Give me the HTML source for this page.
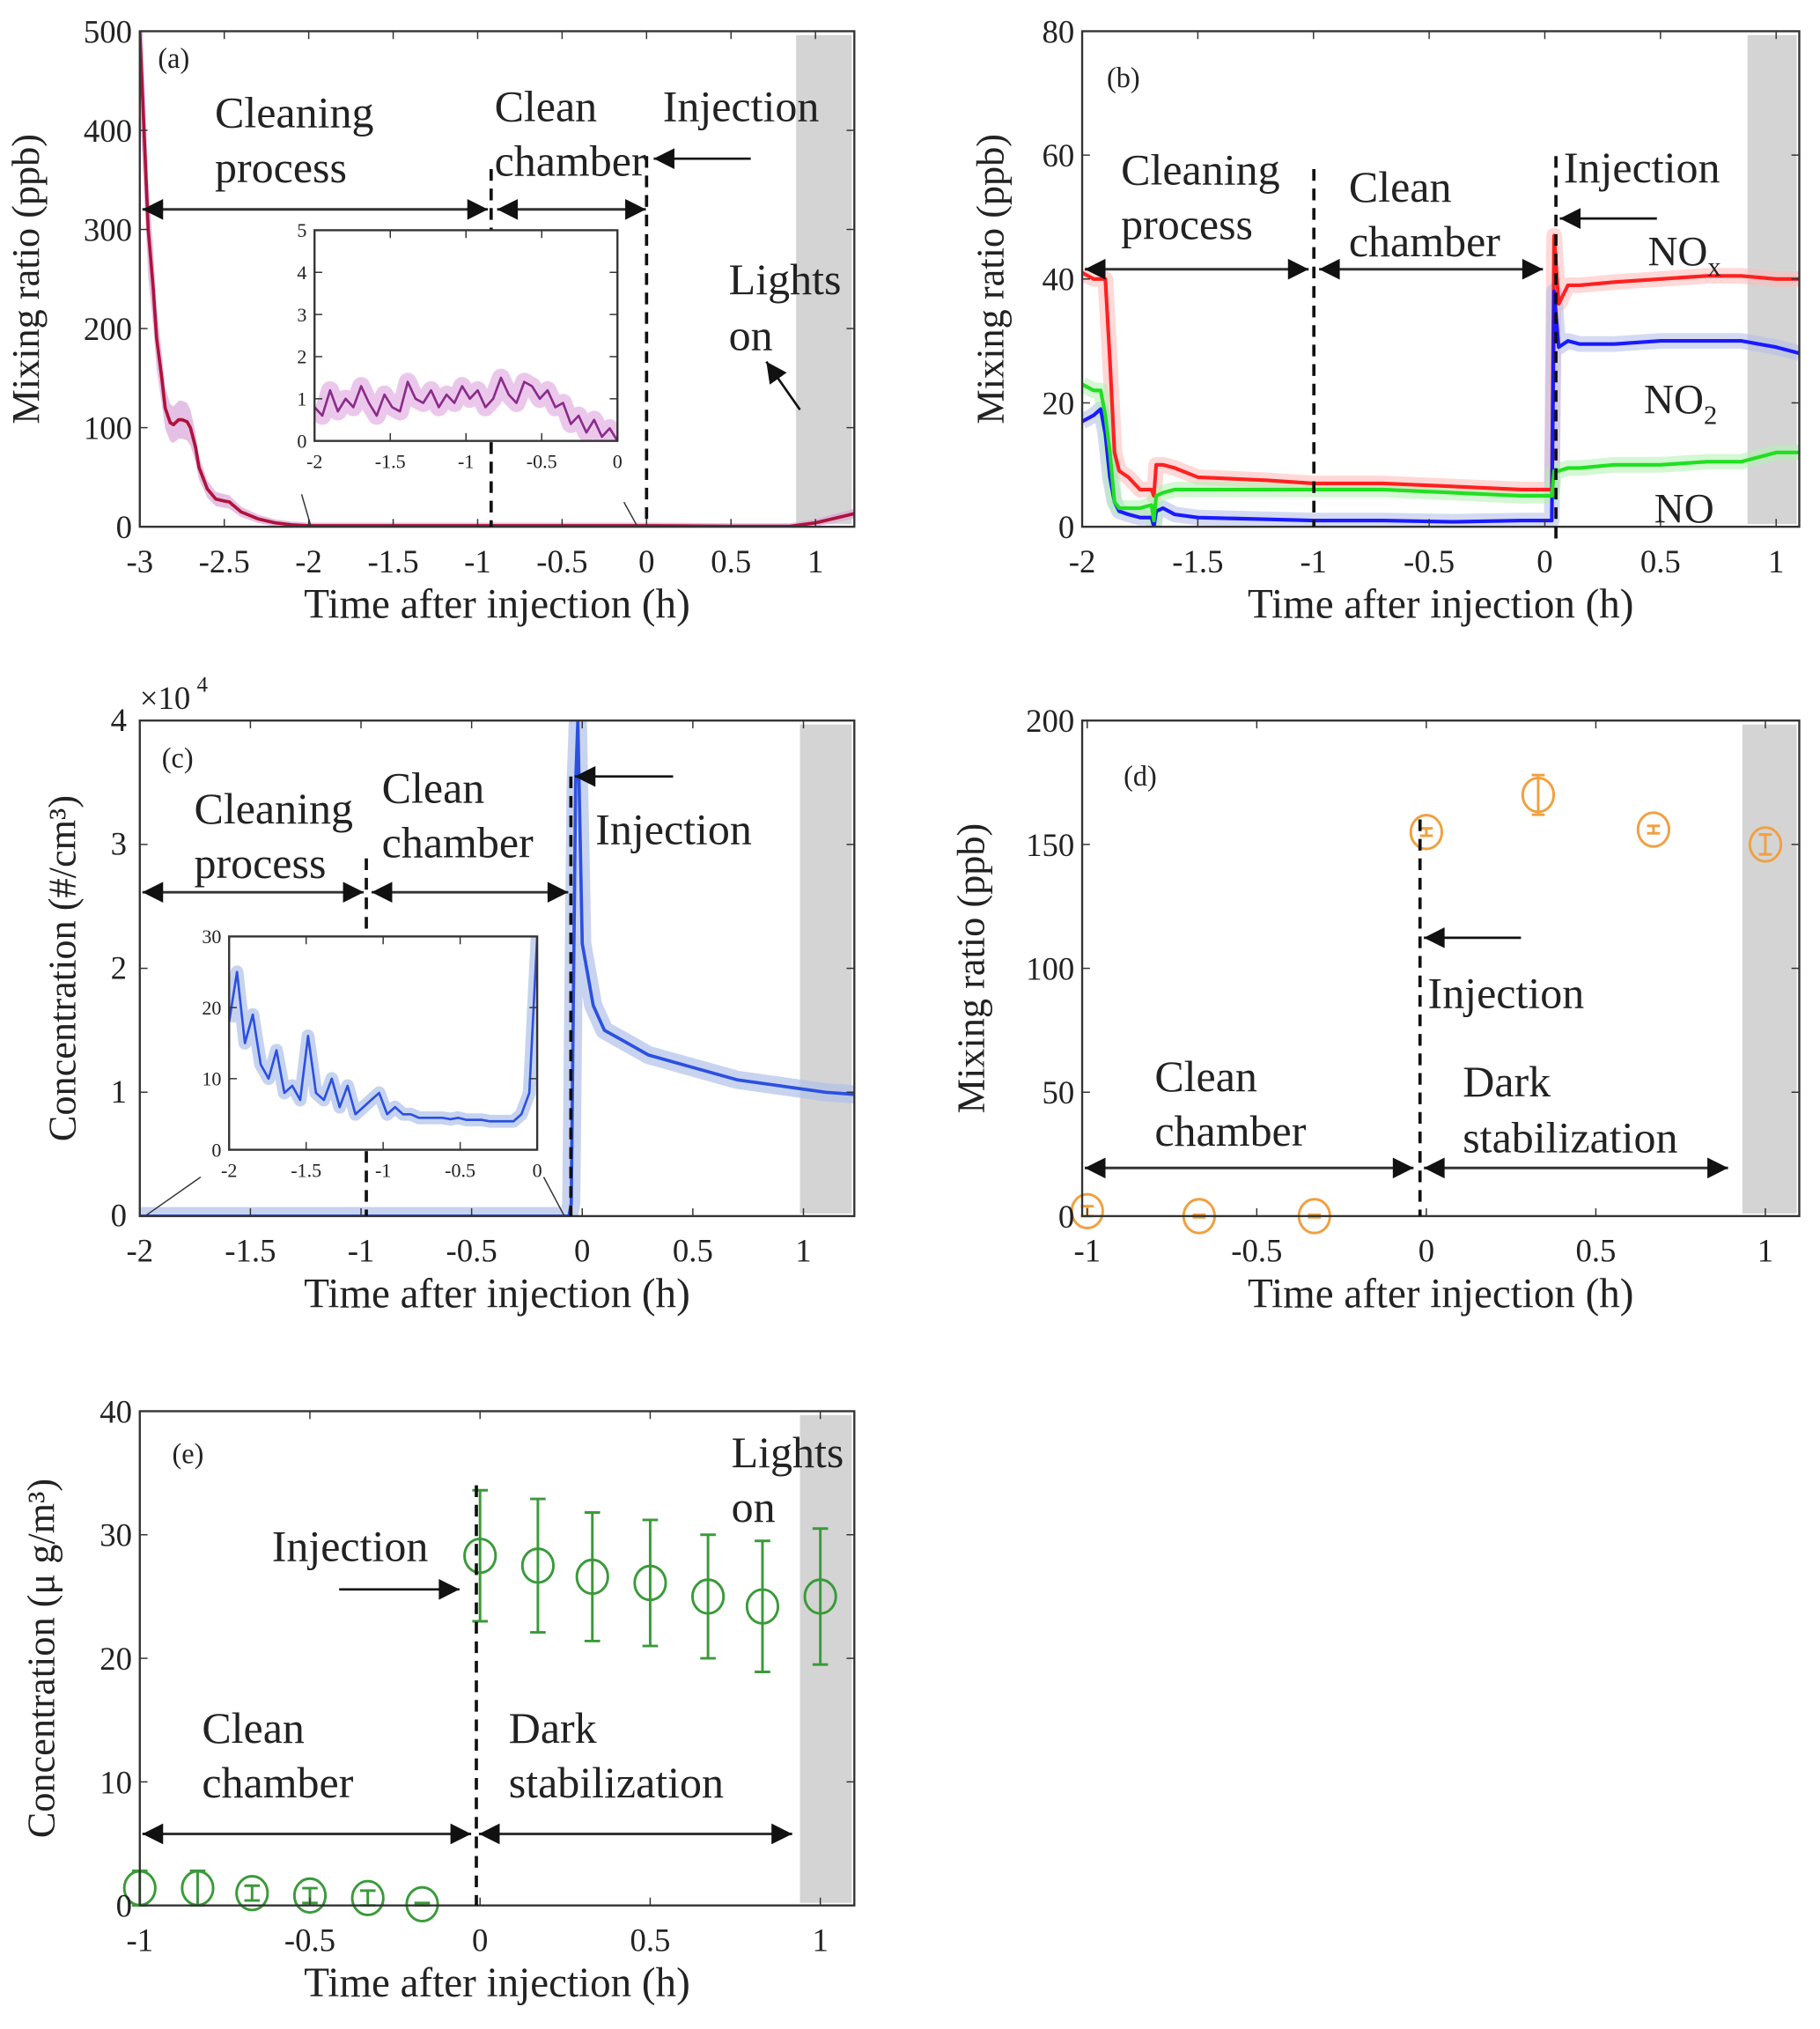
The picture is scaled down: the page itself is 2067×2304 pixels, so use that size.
<!DOCTYPE html>
<html><head><meta charset="utf-8">
<style>
html,body{margin:0;padding:0;background:#fff}
svg{display:block}
text{font-family:"Liberation Serif",serif;fill:#222}
</style></head>
<body>
<svg id="fig" width="2067" height="2304" viewBox="0 0 1406 1560" preserveAspectRatio="none" xmlns="http://www.w3.org/2000/svg"></svg>
<script>
// ---------- data ----------
const aTime = [-3,-2.97,-2.95,-2.92,-2.9,-2.87,-2.85,-2.82,-2.8,-2.77,-2.75,-2.72,-2.7,-2.67,-2.65,-2.6,-2.55,-2.5,-2.47,-2.45,-2.4,-2.3,-2.2,-2.1,-2,-1.5,-1,-0.5,0,0.5,0.85,1.0,1.1,1.25];
const aVal  = [500,380,300,240,190,150,120,105,103,108,108,106,100,80,60,38,28,26,25,22,15,8,4,2,1,1,1,1,1,0.5,0.5,4,8,14];
const aInsetVal = [0.8,0.6,1.2,0.7,1.0,0.8,1.3,0.9,0.6,1.1,0.8,0.7,1.4,1.0,0.9,1.2,0.8,1.1,0.9,1.3,1.0,1.2,0.8,1.0,1.5,1.1,0.9,1.4,1.3,1.0,1.2,0.8,0.9,0.4,0.6,0.2,0.5,0.1,0.3,0.0];
const bTime = [-2,-1.95,-1.92,-1.9,-1.88,-1.86,-1.84,-1.8,-1.75,-1.7,-1.69,-1.68,-1.65,-1.6,-1.5,-1.2,-1,-0.7,-0.4,-0.1,0.03,0.04,0.06,0.1,0.15,0.3,0.5,0.7,0.85,1.0,1.1];
const bNOx  = [41,40,40,40,27,12,9,8,6,6,5,10,10,9.5,8,7.5,7,7,6.5,6,6,47,36,39,39,39.5,40,40.5,40.5,40,40];
const bNO2  = [17,18,19,15,8,4,2.5,2,1.5,1.5,0,2.5,3,2,1.5,1.2,1,1,0.8,1,1,38,29,30,29.5,29.5,30,30,30,29,28];
const bNO   = [23,22,22,18,12,4,3,3,3,3.5,1,5,5.5,6,6,6,6,6,5.5,5,5,9,9,9.5,9.5,10,10,10.5,10.5,12,12];
const cTime = [-2,-1,-0.06,-0.05,-0.03,-0.02,0,0.05,0.1,0.2,0.3,0.5,0.7,0.9,1.1,1.25];
const cVal  = [0,0,0,1000,35000,40000,22000,17000,15000,14000,13000,12000,11000,10500,10000,9800];
const cInsetVal = [18,25,15,19,12,10,14,8,9,7,16,8,7,10,6,9,5,6,7,8,5,6,5,5,4.5,4.5,4.5,4.5,4.3,4.5,4.2,4.2,4.2,4,4,4,4,5,8,30];
const dTime = [-1,-0.67,-0.33,0,0.33,0.67,1];
const dVal  = [2,0,0,155,170,156,150];
const dErr  = [2,0.5,0.5,1.5,8,1.5,4];
const eTime = [-1,-0.83,-0.67,-0.5,-0.33,-0.17,0,0.17,0.33,0.5,0.67,0.83,1];
const eVal  = [1.4,1.4,1.0,0.8,0.6,0.1,28.3,27.5,26.6,26.1,25.0,24.2,25.0];
const eErr  = [1.4,1.4,0.6,0.6,0.6,0.1,5.3,5.4,5.2,5.1,5.0,5.3,5.5];

// ---------- helpers ----------
const NS="http://www.w3.org/2000/svg";
const svg=document.getElementById('fig');
const defs=document.createElementNS(NS,'defs');svg.appendChild(defs);
let clipN=0;
function el(tag,attrs,parent){const e=document.createElementNS(NS,tag);for(const k in attrs)e.setAttribute(k,attrs[k]);(parent||svg).appendChild(e);return e;}
function txt(s,x,y,size,parent,anchor){const t=el('text',{x:x,y:y,'font-size':size,'text-anchor':anchor||'start'},parent);t.textContent=s;return t;}
function subtxt(s,sub,x,y,size,parent){const t=el('text',{x:x,y:y,'font-size':size},parent);t.appendChild(document.createTextNode(s));const ts=el('tspan',{'font-size':size*0.65,dy:size*0.25},t);ts.textContent=sub;return t;}
function scale(d0,d1,r0,r1){return v=>r0+(v-d0)*(r1-r0)/(d1-d0);}
function axes(name,x0,x1,y0,y1,xd,yd,xt,yt,fs,xlabel,ylabel,ylx,bg){
  const g=el('g',{});
  
  
  const id='clip'+(clipN++);
  const cp=el('clipPath',{id:id},defs);el('rect',{x:x0,y:y0,width:x1-x0,height:y1-y0},cp);
  if(bg)el('rect',{x:x0,y:y0,width:x1-x0,height:y1-y0,fill:'#fff'},g);
  const inner=el('g',{'clip-path':`url(#${id})`},g);
  const X=scale(xd[0],xd[1],x0,x1), Y=scale(yd[0],yd[1],y1,y0);
  return {g,inner,X,Y,draw(){
    el('rect',{x:x0,y:y0,width:x1-x0,height:y1-y0,fill:'none',stroke:'#333','stroke-width':1.6},g);
    xt.forEach(t=>{const x=X(t);el('line',{x1:x,x2:x,y1:y1,y2:y1-6,stroke:'#333'},g);el('line',{x1:x,x2:x,y1:y0,y2:y0+6,stroke:'#333'},g);txt(String(t),x,y1+fs*1.4,fs,g,'middle');});
    yt.forEach(t=>{const y=Y(t);el('line',{x1:x0,x2:x0+6,y1:y,y2:y,stroke:'#333'},g);el('line',{x1:x1,x2:x1-6,y1:y,y2:y,stroke:'#333'},g);txt(String(t),x0-6,y+fs*0.35,fs,g,'end');});
    if(xlabel){const t=txt(xlabel,(x0+x1)/2,y1+70,32,g,'middle');}
    if(ylabel){const t=txt(ylabel,0,0,30,g,'middle');t.setAttribute('transform',`translate(${ylx},${(y0+y1)/2}) rotate(-90)`);}
  }};
}
function path(g,X,Y,xs,ys,color,w,op){let d='';xs.forEach((x,i)=>{d+=(i?'L':'M')+X(x).toFixed(1)+','+Y(ys[i]).toFixed(1);});return el('path',{d:d,fill:'none',stroke:color,'stroke-width':w,'stroke-opacity':op||1,'stroke-linejoin':'round'},g);}
function dashed(g,x,ya,yb){el('line',{x1:x,x2:x,y1:ya,y2:yb,stroke:'#111','stroke-width':2.5,'stroke-dasharray':'9,6'},g);}
function arrowHead(g,x,y,dir){el('polygon',{points:`${x},${y} ${x-dir*16},${y-8} ${x-dir*16},${y+8}`,fill:'#111'},g);}
function darrow(g,xa,xb,y){el('line',{x1:xa,x2:xb,y1:y,y2:y,stroke:'#333','stroke-width':2},g);arrowHead(g,xa,y,-1);arrowHead(g,xb,y,1);}
function arrow(g,xa,ya,xb,yb){el('line',{x1:xa,x2:xb,y1:ya,y2:yb,stroke:'#111','stroke-width':1.8},g);const a=Math.atan2(yb-ya,xb-xa);const p=(s)=>[xb-16*Math.cos(a)+s*8*Math.sin(a),yb-16*Math.sin(a)-s*8*Math.cos(a)];el('polygon',{points:`${xb},${yb} ${p(1)} ${p(-1)}`,fill:'#111'},g);}
function shade(g,xa,xb,ya,yb){el('rect',{x:xa,y:ya,width:xb-xa,height:yb-ya,fill:'#d4d4d4'},g);}
function lbl(g,lines,x,y,size,gap){lines.forEach((s,i)=>txt(s,x,y+i*gap,size,g));}
const LS=34, TS=25;

// ---------- panel a ----------
{
const A=axes('panel-a',108,660,24,405,[-3,1.23],[0,500],[-3,-2.5,-2,-1.5,-1,-0.5,0,0.5,1],[0,100,200,300,400,500],TS,'Time after injection (h)','Mixing ratio (ppb)',30);
shade(A.inner,615,658,27,403);
el('path',{d:(()=>{let d='';aTime.forEach((t,i)=>{d+=(i?'L':'M')+A.X(t)+','+A.Y(aVal[i]*1.15+3);});for(let i=aTime.length-1;i>=0;i--)d+='L'+A.X(aTime[i])+','+A.Y(Math.max(0,aVal[i]*0.85-3));return d+'Z';})(),fill:'#d9a6d9',opacity:0.7},A.inner);
const ln=path(A.inner,A.X,A.Y,aTime,aVal,'#b0123a',2.5);
A.draw();
dashed(A.g,A.X(-0.92),130,405);dashed(A.g,A.X(0),120,405);
lbl(A.g,['(a)'],122,52,22,0);
lbl(A.g,['Cleaning','process'],166,98,LS,42);
lbl(A.g,['Clean','chamber'],382,93,LS,42);
lbl(A.g,['Injection'],512,93,LS,0);
lbl(A.g,['Lights','on'],563,226,LS,43);
darrow(A.g,110,377,161);darrow(A.g,384,499,161);
arrow(A.g,580,122,505,122);arrow(A.g,618,315,592,278);
el('line',{x1:233,y1:380,x2:240,y2:404,stroke:'#333'},A.g);el('line',{x1:482,y1:386,x2:492,y2:404,stroke:'#333'},A.g);
const I=axes('inset-a',243,477,177,339,[-2,0],[0,5],[-2,-1.5,-1,-0.5,0],[0,1,2,3,4,5],15,null,null,0,true);
const it=aInsetVal.map((v,i)=>-2+2*i/(aInsetVal.length-1));
path(I.inner,I.X,I.Y,it,aInsetVal,'#e3b0e3',14,0.7);
const il=path(I.inner,I.X,I.Y,it,aInsetVal,'#8a2c8a',1.8);
I.draw();
dashed(A.g,A.X(-0.92),177,339);
}
// ---------- panel b ----------
{
const B=axes('panel-b',836,1390,24,405,[-2,1.1],[0,80],[-2,-1.5,-1,-0.5,0,0.5,1],[0,20,40,60,80],TS,'Time after injection (h)','Mixing ratio (ppb)',775);
shade(B.inner,1350,1388,27,403);
[[bNOx,'#ffb8b8'],[bNO2,'#b0bce8'],[bNO,'#b0f0b0']].forEach(([v,lc])=>{
  path(B.inner,B.X,B.Y,bTime,v,lc,12,0.55);
});
[[bNOx,'#ff2020','nox-line'],[bNO2,'#1a1aff','no2-line'],[bNO,'#20e020','no-line']].forEach(([v,c,n])=>{
  const p=path(B.inner,B.X,B.Y,bTime,v,c,2.8);
});
B.draw();
dashed(B.g,1015,130,405);dashed(B.g,1202,120,420);
lbl(B.g,['(b)'],855,67,22,0);
lbl(B.g,['Cleaning','process'],866,142,LS,42);
lbl(B.g,['Clean','chamber'],1042,155,LS,42);
lbl(B.g,['Injection'],1208,140,LS,0);
darrow(B.g,838,1011,207);darrow(B.g,1019,1192,207);
arrow(B.g,1280,168,1205,168);
subtxt('NO','x',1273,204,32,B.g);
subtxt('NO','2',1270,318,32,B.g);
txt('NO',1278,402,32,B.g);
}
// ---------- panel c ----------
{
const C=axes('panel-c',108,660,554,935,[-2,1.23],[0,40000],[-2,-1.5,-1,-0.5,0,0.5,1],[],TS,'Time after injection (h)','Concentration (#/cm³)',58);
shade(C.inner,618,658,557,933);
[0,1,2,3,4].forEach(t=>{const y=C.Y(t*10000);el('line',{x1:108,x2:114,y1:y,y2:y,stroke:'#333'},C.g);el('line',{x1:660,x2:654,y1:y,y2:y,stroke:'#333'},C.g);txt(String(t),98,y+8,TS,C.g,'end');});
path(C.inner,C.X,C.Y,cTime,cVal,'#b0c0ea',14,0.7);
const p=path(C.inner,C.X,C.Y,cTime,cVal,'#2b50e0',2.5);
C.draw();
dashed(C.g,441,597,935);
txt('×10',108,545,25,C.g);txt('4',152,532,17,C.g);
lbl(C.g,['(c)'],125,590,22,0);
lbl(C.g,['Cleaning','process'],150,633,LS,42);
lbl(C.g,['Clean','chamber'],295,617,LS,42);
lbl(C.g,['Injection'],460,649,LS,0);
darrow(C.g,110,281,686);darrow(C.g,287,439,686);
arrow(C.g,520,597,444,597);
el('line',{x1:155,y1:905,x2:112,y2:935,stroke:'#333'},C.g);el('line',{x1:420,y1:905,x2:436,y2:935,stroke:'#333'},C.g);
const I=axes('inset-c',177,415,720,884,[-2,0],[0,30],[-2,-1.5,-1,-0.5,0],[0,10,20,30],15,null,null,0,true);
const it=cInsetVal.map((v,i)=>-2+2*i/(cInsetVal.length-1));
path(I.inner,I.X,I.Y,it,cInsetVal,'#b8c8ec',10,0.8);
const il=path(I.inner,I.X,I.Y,it,cInsetVal,'#2b50e0',1.8);
I.draw();
dashed(C.g,283,660,935);
}
// ---------- panel d ----------
{
const D=axes('panel-d',836,1390,554,935,[-1.015,1.1],[0,200],[-1,-0.5,0,0.5,1],[0,50,100,150,200],TS,'Time after injection (h)','Mixing ratio (ppb)',760);
shade(D.g,1346,1388,557,933);
dTime.forEach((t,i)=>{const x=D.X(t),y=D.Y(dVal[i]),ya=D.Y(dVal[i]+dErr[i]),yb=D.Y(dVal[i]-dErr[i]);
  const g=el('g',{},D.g);
  el('line',{x1:x,x2:x,y1:ya,y2:yb,stroke:'#f0a040','stroke-width':2},g);
  el('line',{x1:x-5,x2:x+5,y1:ya,y2:ya,stroke:'#f0a040','stroke-width':2},g);el('line',{x1:x-5,x2:x+5,y1:yb,y2:yb,stroke:'#f0a040','stroke-width':2},g);
  el('ellipse',{cx:x,cy:y,rx:12,ry:13,fill:'none',stroke:'#f0a040','stroke-width':2},g);});
D.draw();
dashed(D.g,1097,630,935);
lbl(D.g,['(d)'],868,604,22,0);
lbl(D.g,['Clean','chamber'],892,839,LS,42);
lbl(D.g,['Injection'],1103,775,LS,0);
lbl(D.g,['Dark','stabilization'],1130,843,LS,43);
darrow(D.g,838,1092,898);darrow(D.g,1100,1335,898);
arrow(D.g,1175,721,1100,721);
}
// ---------- panel e ----------
{
const E=axes('panel-e',108,660,1085,1465,[-1,1.1],[0,40],[-1,-0.5,0,0.5,1],[0,10,20,30,40],TS,'Time after injection (h)','Concentration (μ g/m³)',42);
shade(E.g,618,658,1088,1463);
eTime.forEach((t,i)=>{const x=E.X(t),y=E.Y(eVal[i]),ya=E.Y(eVal[i]+eErr[i]),yb=E.Y(eVal[i]-eErr[i]);
  const g=el('g',{},E.g);
  el('line',{x1:x,x2:x,y1:ya,y2:yb,stroke:'#3a9a3a','stroke-width':2},g);
  el('line',{x1:x-6,x2:x+6,y1:ya,y2:ya,stroke:'#3a9a3a','stroke-width':2},g);el('line',{x1:x-6,x2:x+6,y1:yb,y2:yb,stroke:'#3a9a3a','stroke-width':2},g);
  el('ellipse',{cx:x,cy:y,rx:12,ry:13,fill:'none',stroke:'#3a9a3a','stroke-width':2},g);});
E.draw();
dashed(E.g,368,1142,1465);
lbl(E.g,['(e)'],133,1125,22,0);
lbl(E.g,['Injection'],210,1200,LS,0);
lbl(E.g,['Lights','on'],565,1128,LS,42);
lbl(E.g,['Clean','chamber'],156,1340,LS,42);
lbl(E.g,['Dark','stabilization'],393,1340,LS,42);
darrow(E.g,110,364,1410);darrow(E.g,370,612,1410);
arrow(E.g,262,1222,355,1222);
}
</script>
</body></html>
